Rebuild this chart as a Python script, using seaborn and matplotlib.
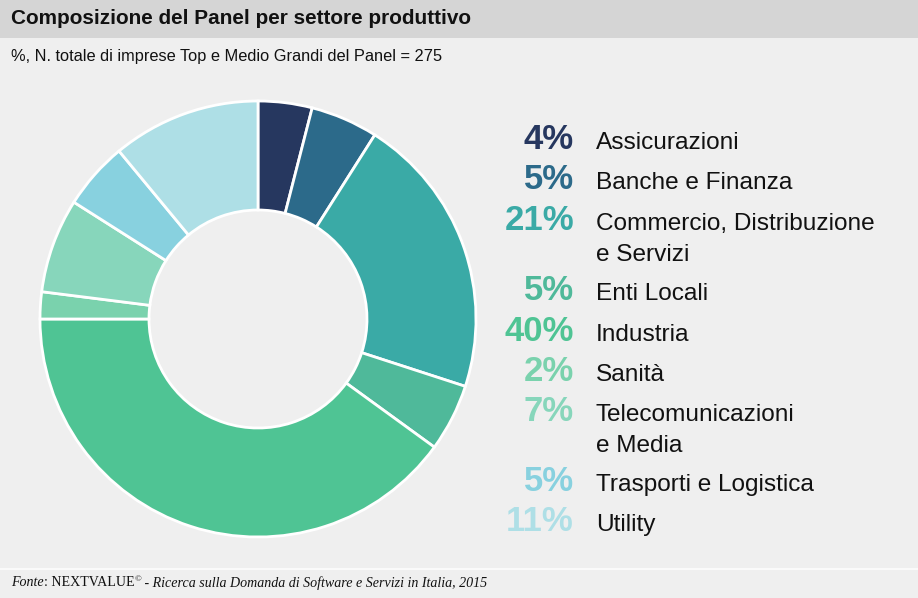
import seaborn as sns
from matplotlib import pyplot as plt
from matplotlib.patches import Rectangle

# data
sectors = ["Assicurazioni", "Banche e Finanza", "Commercio, Distribuzione\ne Servizi",
           "Enti Locali", "Industria", "Sanità", "Telecomunicazioni\ne Media",
           "Trasporti e Logistica", "Utility"]
shares = [4, 5, 21, 5, 40, 2, 7, 5, 11]
hex_colors = ["#26375f", "#2c6a8a", "#3aaaa6", "#4fb99a", "#4fc494",
              "#7ad2ad", "#87d6bb", "#88d1df", "#aedfe6"]

title = "Composizione del Panel per settore produttivo"
subtitle = "%, N. totale di imprese Top e Medio Grandi del Panel = 275"

sns.set_style("white")
plt.rcParams['font.family'] = ['Liberation Sans', 'DejaVu Sans']
palette = sns.color_palette(hex_colors)

W, H = 918, 598
fig = plt.figure(figsize=(W / 100, H / 100), dpi=100)
fig.patch.set_facecolor("#efefef")

def fx(px):
    return px / W

def fy(py):
    return 1 - py / H

# title band and footer separator
fig.patches.append(Rectangle((0, fy(38)), 1, 38 / H, transform=fig.transFigure,
                             facecolor="#d5d5d5", edgecolor="none", zorder=0))
fig.patches.append(Rectangle((0, fy(570)), 1, 2 / H, transform=fig.transFigure,
                             facecolor="#fafafa", edgecolor="none", zorder=0))

fig.text(fx(11), fy(19), title, fontsize=14.95, fontweight="bold", va="center", color="#111111")
fig.text(fx(11), fy(56), subtitle, fontsize=11.8, va="center", color="#111111")

# donut
cx, cy, r = 258, 319, 218
ax = fig.add_axes([fx(cx - r), fy(cy + r), 2 * r / W, 2 * r / H])
ax.pie(shares, colors=palette, startangle=90, counterclock=False, radius=1,
       wedgeprops=dict(width=0.5, edgecolor="white", linewidth=2))
ax.set_xlim(-1, 1)
ax.set_ylim(-1, 1)
ax.set_aspect("equal")
ax.axis("off")
for p in ax.patches:
    p.set_clip_on(False)

# legend-like labels (baselines in pixels)
baselines = [149, 189, 230, 300, 341, 381, 421, 491, 531]
for lab, val, col, yy in zip(sectors, shares, palette, baselines):
    fig.text(fx(574), fy(yy), f"{val}%", fontsize=25, fontweight="bold", color=col,
             ha="right", va="baseline")
    for i, line in enumerate(lab.split("\n")):
        fig.text(fx(596), fy(yy + 31 * i), line, fontsize=17.6, color="#111111",
                 ha="left", va="baseline")

# footer with mixed styles
fig.canvas.draw()
renderer = fig.canvas.get_renderer()
parts = [("Fonte", "italic", 0), (": NEXTVALUE", "normal", 0), ("©", "normal", 4),
         (" - Ricerca sulla Domanda di Software e Servizi in Italia, 2015", "italic", 0)]
x = 11
for txt, style, dy in parts:
    t = fig.text(fx(x), fy(583 - dy), txt, fontsize=10.1 if dy == 0 else 6.5,
                 family="Liberation Serif", style=style, va="center", color="#111111")
    bb = t.get_window_extent(renderer)
    x += bb.width

plt.savefig("out.png", dpi=100, facecolor=fig.get_facecolor())
